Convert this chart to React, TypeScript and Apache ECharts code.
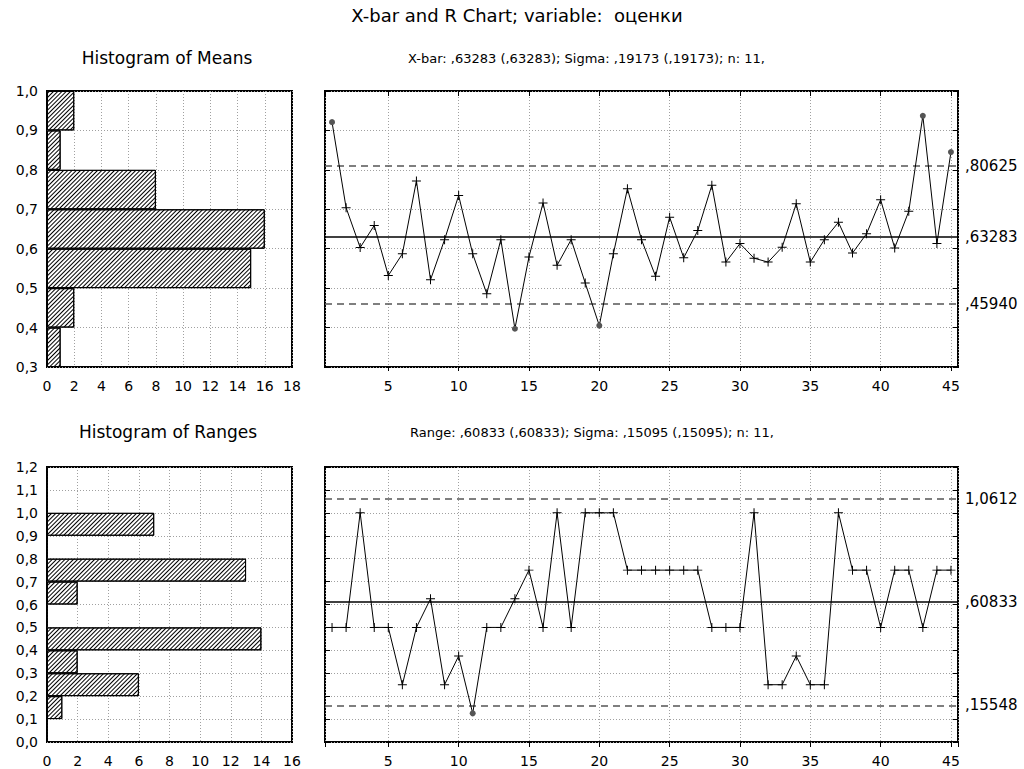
import React, { useEffect, useRef } from "react";
import * as echarts from "echarts";

// ---------- data ----------
const xbarMeans = [
  0.921, 0.704, 0.603, 0.659, 0.532, 0.587, 0.772, 0.521, 0.623, 0.735,
  0.587, 0.486, 0.623, 0.397, 0.579, 0.716, 0.558, 0.623, 0.513, 0.405,
  0.587, 0.752, 0.623, 0.53, 0.68, 0.577, 0.646, 0.761, 0.566, 0.613,
  0.576, 0.566, 0.604, 0.714, 0.566, 0.623, 0.667, 0.589, 0.638, 0.724,
  0.602, 0.695, 0.937, 0.613, 0.845,
];
const ranges = [
  0.5, 0.5, 1.0, 0.5, 0.5, 0.25, 0.5, 0.625, 0.25, 0.375,
  0.125, 0.5, 0.5, 0.625, 0.75, 0.5, 1.0, 0.5, 1.0, 1.0,
  1.0, 0.75, 0.75, 0.75, 0.75, 0.75, 0.75, 0.5, 0.5, 0.5,
  1.0, 0.25, 0.25, 0.375, 0.25, 0.25, 1.0, 0.75, 0.75, 0.5,
  0.75, 0.75, 0.5, 0.75, 0.75,
];
// control limits: [UCL, center, LCL]
const xbarLimits = [0.80625, 0.63283, 0.4594];
const xbarLimitLabels = [",80625", ",63283", ",45940"];
const rLimits = [1.0612, 0.60833, 0.15548];
const rLimitLabels = ["1,0612", ",60833", ",15548"];

// histogram bins (lower edges) and counts
const meanBins = ["0,3", "0,4", "0,5", "0,6", "0,7", "0,8", "0,9"];
const meanCounts = [1, 2, 15, 16, 8, 1, 2];
const rangeBins = ["0,0", "0,1", "0,2", "0,3", "0,4", "0,5", "0,6", "0,7", "0,8", "0,9", "1,0", "1,1"];
const rangeCounts = [0, 1, 6, 2, 14, 0, 2, 13, 0, 7, 0, 0];

const titleText = "X-bar and R Chart; variable:  оценки";
const meanHistTitle = "Histogram of Means";
const rangeHistTitle = "Histogram of Ranges";
const xbarSubtitle = "X-bar: ,63283 (,63283); Sigma: ,19173 (,19173); n: 11,";
const rSubtitle = "Range: ,60833 (,60833); Sigma: ,15095 (,15095); n: 11,";

// ---------- styles ----------
const FONT = "'DejaVu Sans', 'Liberation Sans', Arial, sans-serif";
const FS = 14;
const PLUS = "path://M4,0H5V4H9V5H5V9H4V5H0V4H4Z";
const dotted = { color: "#a0a0a0", type: [1, 2] as any, width: 1 };
const gridLine = { show: true, lineStyle: dotted };
const labelStyle = { color: "#000", fontFamily: FONT, fontSize: FS };
const commaFmt = (v: number) => v.toFixed(1).replace(".", ",");

const hatch = {
  symbol: "rect",
  symbolSize: 1,
  dashArrayX: [1, 0],
  dashArrayY: [1, 2],
  rotation: -Math.PI / 4,
  color: "#000",
};

function controlSeries(values: number[], limits: number[], labels: string[], xi: number, yi: number) {
  const data = values.map((v, i) => {
    const out = v > limits[0] || v < limits[2];
    return {
      value: [i + 1, v],
      symbol: out ? "circle" : PLUS,
      symbolSize: out ? 6 : 9,
      itemStyle: { color: out ? "#555" : "#000" },
    };
  });
  const dashed = { color: "#555", width: 1.5, type: [7, 5] as any };
  const solid = { color: "#000", width: 1.5, type: "solid" as any };
  return {
    type: "line",
    xAxisIndex: xi,
    yAxisIndex: yi,
    data,
    lineStyle: { color: "#000", width: 1 },
    showAllSymbol: true,
    z: 5,
    markLine: {
      silent: true,
      symbol: ["none", "none"],
      z: 3,
      data: limits.map((l, k) => ({
        yAxis: l,
        lineStyle: k === 1 ? solid : dashed,
        label: {
          show: true,
          position: "end",
          distance: 7,
          formatter: labels[k],
          color: "#000",
          fontFamily: FONT,
          fontSize: 15,
        },
      })),
    },
  };
}

function histBar(counts: number[], xi: number, yi: number) {
  return {
    type: "bar",
    xAxisIndex: xi,
    yAxisIndex: yi,
    data: counts,
    barCategoryGap: 0,
    itemStyle: { color: "#fff", borderColor: "#000", borderWidth: 1, decal: hatch },
  };
}

function sampleAxes(gridIndex: number, count: number) {
  const common = {
    type: "value",
    gridIndex,
    min: 0.5,
    max: count + 0.5,
    splitNumber: 9,
    axisLine: { show: false },
  };
  return [
    {
      ...common,
      position: "bottom",
      axisTick: { show: true, length: 4, lineStyle: { color: "#000" } },
      axisLabel: { ...labelStyle, margin: 12, showMinLabel: false, showMaxLabel: false },
      splitLine: gridLine,
    },
    {
      ...common,
      position: "top",
      axisTick: { show: true, inside: true, length: 5, lineStyle: { color: "#000" } },
      axisLabel: { show: false },
      splitLine: { show: false },
    },
  ];
}

function levelAxes(gridIndex: number, min: number, max: number) {
  const common = {
    type: "value",
    gridIndex,
    min,
    max,
    interval: 0.1,
    axisLine: { show: false },
    axisTick: { show: true, inside: true, length: 5, lineStyle: { color: "#000" } },
    axisLabel: { show: false },
  };
  return [
    { ...common, position: "left", splitLine: gridLine },
    { ...common, position: "right", splitLine: { show: false } },
  ];
}

function histAxes(gridIndex: number, min: number, max: number, bins: string[]) {
  return [
    {
      type: "value",
      gridIndex,
      min,
      max,
      interval: 0.1,
      position: "left",
      axisLine: { show: false },
      axisTick: { show: false },
      axisLabel: { ...labelStyle, margin: 9, formatter: commaFmt },
      splitLine: gridLine,
    },
    {
      type: "category",
      gridIndex,
      data: bins,
      show: false,
      boundaryGap: true,
    },
  ];
}

function countAxis(gridIndex: number, max: number) {
  return {
    type: "value",
    gridIndex,
    min: 0,
    max,
    interval: 2,
    axisLine: { show: false },
    axisTick: { show: false },
    axisLabel: { ...labelStyle, margin: 12 },
    splitLine: gridLine,
  };
}

const gridBase = { show: true, borderColor: "#000", borderWidth: 2, backgroundColor: "#fff", containLabel: false };

export default function App() {
  const ref = useRef<HTMLDivElement>(null);
  useEffect(() => {
    if (!ref.current) return;
    const chart = echarts.init(ref.current, null, { renderer: "svg" });
    const text = (t: string, x: number, y: number, align: string, size: number) => ({
      type: "text",
      x,
      y,
      style: {
        text: t,
        textAlign: align,
        textVerticalAlign: "middle",
        fontFamily: FONT,
        fontSize: size,
        fill: "#000",
      },
    });
    chart.setOption({
      animation: false,
      backgroundColor: "#fff",
      grid: [
        { ...gridBase, left: 47, top: 91, width: 245, height: 276 },
        { ...gridBase, left: 325, top: 91, width: 633, height: 276 },
        { ...gridBase, left: 47, top: 467, width: 245, height: 275 },
        { ...gridBase, left: 325, top: 467, width: 633, height: 275 },
      ],
      xAxis: [
        countAxis(0, 18),
        ...sampleAxes(1, xbarMeans.length),
        countAxis(2, 16),
        ...sampleAxes(3, ranges.length),
      ],
      yAxis: [
        ...histAxes(0, 0.3, 1.0, meanBins),
        ...levelAxes(1, 0.3, 1.0),
        ...histAxes(2, 0.0, 1.2, rangeBins),
        ...levelAxes(3, 0.0, 1.2),
      ],
      series: [
        histBar(meanCounts, 0, 1),
        controlSeries(xbarMeans, xbarLimits, xbarLimitLabels, 1, 2),
        histBar(rangeCounts, 3, 5),
        controlSeries(ranges, rLimits, rLimitLabels, 4, 6),
      ],
      graphic: [
        text(titleText, 517, 15, "center", 18),
        text(meanHistTitle, 167, 58, "center", 17),
        text(xbarSubtitle, 408, 58, "left", 13),
        text(rangeHistTitle, 168, 432, "center", 17),
        text(rSubtitle, 410, 432, "left", 13),
      ],
    });
    return () => chart.dispose();
  }, []);
  return (
    <div
      ref={ref}
      style={{ position: "absolute", left: 0, top: 0, width: 1024, height: 769, background: "#fff" }}
    />
  );
}
